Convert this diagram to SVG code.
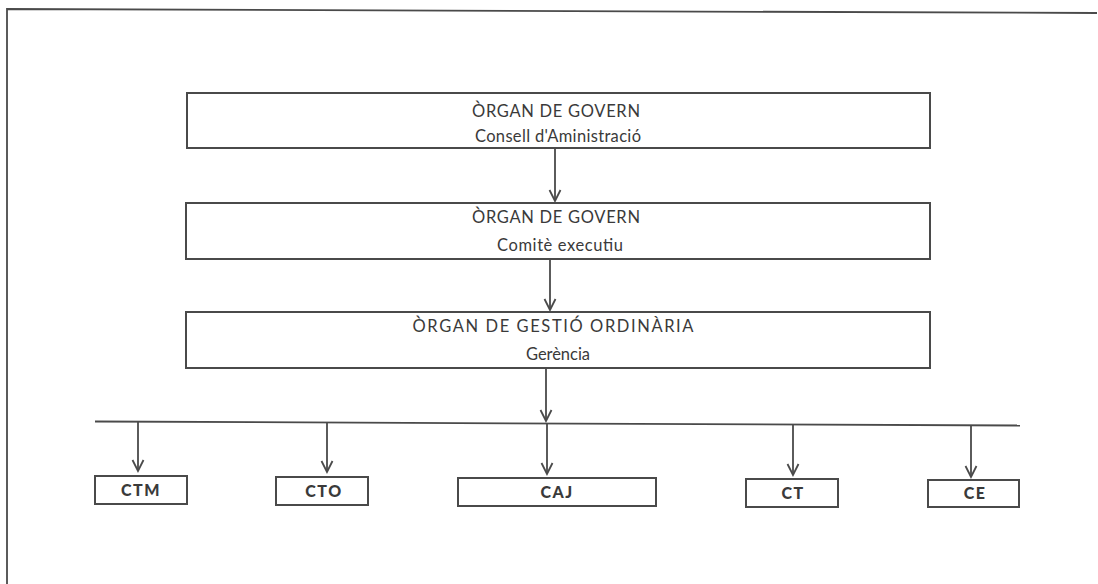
<svg xmlns="http://www.w3.org/2000/svg" width="1098" height="584" viewBox="0 0 1098 584">
<style>
.box{fill:#fff;stroke:#4a4a4a;stroke-width:2}
.t{font-family:"Lato","Liberation Sans",sans-serif;font-size:16.5px;fill:#3a3a3a;text-anchor:middle}
.b{font-family:"Lato","Liberation Sans",sans-serif;font-size:16px;font-weight:900;fill:#3a3a3a;text-anchor:middle;letter-spacing:1.5px}
.c{fill:none;stroke:#4a4a4a;stroke-width:1.8}
</style>
<defs>
<marker id="arr" markerWidth="14" markerHeight="14" viewBox="-12 -7 14 14" refX="0" refY="0" orient="auto" markerUnits="userSpaceOnUse">
<path d="M-11,-5.5 L0,0 L-11,5.5" fill="none" stroke="#4a4a4a" stroke-width="1.8"/>
</marker>
</defs>
<path d="M7,584 L7,9 L1097,13" fill="none" stroke="#4a4a4a" stroke-width="1.8"/>
<g id="n1">
<rect class="box" x="187" y="93" width="743" height="55"/>
<text class="t" x="556" y="117" textLength="168" lengthAdjust="spacing">ÒRGAN DE GOVERN</text>
<text class="t" x="558" y="142" textLength="166" lengthAdjust="spacing">Consell d'Aministració</text>
</g>
<g id="n2">
<rect class="box" x="186" y="203" width="744" height="56"/>
<text class="t" x="556" y="223" textLength="168" lengthAdjust="spacing">ÒRGAN DE GOVERN</text>
<text class="t" x="560" y="251" textLength="126" lengthAdjust="spacing">Comitè executiu</text>
</g>
<g id="n3">
<rect class="box" x="186" y="312" width="744" height="56"/>
<text class="t" x="553" y="332" textLength="281" lengthAdjust="spacing">ÒRGAN DE GESTIÓ ORDINÀRIA</text>
<text class="t" x="558" y="360" textLength="64" lengthAdjust="spacing">Gerència</text>
</g>
<g id="ctm">
<rect class="box" x="95" y="476" width="92" height="28"/>
<text class="b" x="141" y="496">CTM</text>
</g>
<g id="cto">
<rect class="box" x="276" y="477" width="92" height="28"/>
<text class="b" x="324" y="497">CTO</text>
</g>
<g id="caj">
<rect class="box" x="458" y="478" width="198" height="28"/>
<text class="b" x="557" y="498">CAJ</text>
</g>
<g id="ct">
<rect class="box" x="746" y="479" width="92" height="28"/>
<text class="b" x="793" y="499">CT</text>
</g>
<g id="ce">
<rect class="box" x="928" y="480" width="91" height="27"/>
<text class="b" x="975" y="499">CE</text>
</g>
<g id="connectors">
<line class="c" x1="555" y1="148" x2="555" y2="201" marker-end="url(#arr)"/>
<line class="c" x1="550" y1="259" x2="550" y2="310" marker-end="url(#arr)"/>
<line class="c" x1="546" y1="368" x2="546" y2="421" marker-end="url(#arr)"/>
<line class="c" x1="95" y1="421.5" x2="1020" y2="425.5"/>
<line class="c" x1="138" y1="422" x2="138" y2="471" marker-end="url(#arr)"/>
<line class="c" x1="327" y1="423" x2="327" y2="472" marker-end="url(#arr)"/>
<line class="c" x1="547" y1="424" x2="547" y2="474" marker-end="url(#arr)"/>
<line class="c" x1="793" y1="425" x2="793" y2="475" marker-end="url(#arr)"/>
<line class="c" x1="971" y1="425.5" x2="971" y2="477" marker-end="url(#arr)"/>
</g>
</svg>
